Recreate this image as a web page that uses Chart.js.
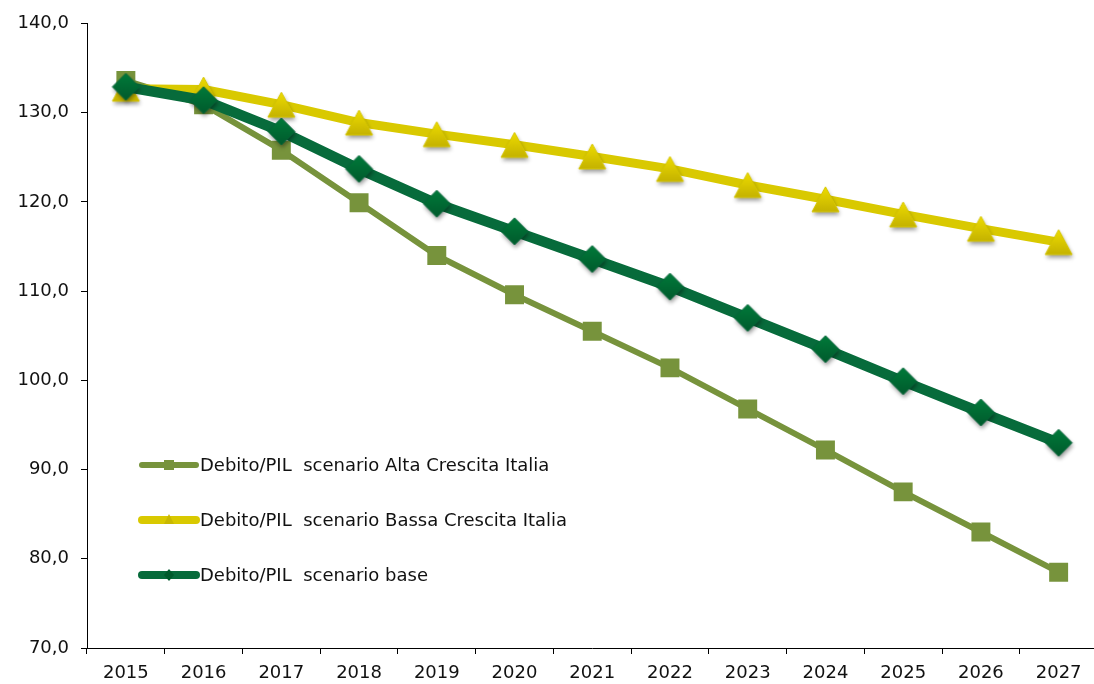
<!DOCTYPE html>
<html>
<head>
<meta charset="utf-8">
<script src="https://cdn.jsdelivr.net/npm/chart.js@4"></script>
<style>
    html, body { margin: 0; padding: 0; background: #fff; overflow: hidden; }
    #wrap { width: 1094px; height: 684px; overflow: hidden; }
</style>
</head>
<body>
<!-- canvas runs past the frame; the plot's right edge is cropped like the original -->
<div id="wrap"><canvas id="debtChart" width="1121" height="684"></canvas></div>
<script>
// Debito/PIL projections by scenario

const years = ['2015', '2016', '2017', '2018', '2019', '2020', '2021', '2022', '2023', '2024', '2025', '2026', '2027'];

const altaCrescita = [133.6, 130.9, 125.8, 119.9, 114.0, 109.6, 105.5, 101.4, 96.8, 92.2, 87.5, 83.0, 78.5];
const bassaCrescita = [132.7, 132.6, 130.9, 128.9, 127.6, 126.4, 125.1, 123.7, 121.9, 120.3, 118.6, 117.0, 115.5];
const scenarioBase = [132.9, 131.4, 127.9, 123.7, 119.8, 116.7, 113.6, 110.5, 107.0, 103.5, 99.9, 96.4, 93.0];

const seriesLabels = [
    'Debito/PIL  scenario Alta Crescita Italia',
    'Debito/PIL  scenario Bassa Crescita Italia',
    'Debito/PIL  scenario base'
];

const yTicks = { min: 70, max: 140, step: 10 };

// Colors
const colors = {
    alta: '#77933C',
    bassa: '#D9C900',
    base: '#076B3B',
};

const FONT = '"DejaVu Sans", sans-serif';

// Marker sprite with gradient fill and drop shadow
function makeMarker(shape, w, h, topColor, bottomColor, edge) {
    const pad = 8;
    const c = document.createElement('canvas');
    c.width = w + pad * 2;
    c.height = h + pad * 2;
    const g = c.getContext('2d');
    const cx = c.width / 2, cy = c.height / 2;
    g.beginPath();
    if (shape === 'triangle') {
        g.moveTo(cx, cy - h / 2);
        g.lineTo(cx + w / 2, cy + h / 2);
        g.lineTo(cx - w / 2, cy + h / 2);
    } else {
        g.moveTo(cx, cy - h / 2);
        g.lineTo(cx + w / 2, cy);
        g.lineTo(cx, cy + h / 2);
        g.lineTo(cx - w / 2, cy);
    }
    g.closePath();
    const grad = g.createLinearGradient(0, cy - h / 2, 0, cy + h / 2);
    grad.addColorStop(0, topColor);
    grad.addColorStop(1, bottomColor);
    g.shadowColor = 'rgba(0,0,0,0.4)';
    g.shadowBlur = 4;
    g.shadowOffsetX = 1;
    g.shadowOffsetY = 3;
    g.fillStyle = grad;
    g.fill();
    g.shadowColor = 'transparent';
    g.strokeStyle = edge;
    g.lineWidth = 1;
    g.stroke();
    return c;
}

const triangleMarker = makeMarker('triangle', 27, 25, '#EEDC00', '#C4B200', '#D6C600');
const diamondMarker = makeMarker('diamond', 27, 27, '#007A3A', '#005A2C', '#06663A');

// Legend drawn inside the plot area, lower left
const insideLegend = {
    id: 'insideLegend',
    afterDraw(chart) {
        const ctx = chart.ctx;
        const specs = [
            { color: colors.alta, width: 6, marker: 'square' },
            { color: colors.bassa, width: 8, marker: 'triangle' },
            { color: colors.base, width: 8, marker: 'diamond' },
        ];
        ctx.save();
        chart.data.datasets.forEach((ds, i) => {
            const y = 465 + i * 55;
            const x0 = 142, x1 = 196, xm = (x0 + x1) / 2;
            const s = specs[i];
            ctx.strokeStyle = s.color;
            ctx.lineWidth = s.width;
            ctx.lineCap = 'round';
            ctx.beginPath();
            ctx.moveTo(x0, y);
            ctx.lineTo(x1, y);
            ctx.stroke();

            ctx.fillStyle = s.marker === 'triangle' ? '#C9B800' : (s.marker === 'diamond' ? '#005A2C' : s.color);
            ctx.beginPath();
            if (s.marker === 'square') {
                ctx.rect(xm - 5, y - 5, 10, 10);
            } else if (s.marker === 'triangle') {
                ctx.moveTo(xm, y - 6);
                ctx.lineTo(xm + 5, y + 4);
                ctx.lineTo(xm - 5, y + 4);
            } else {
                ctx.moveTo(xm, y - 6);
                ctx.lineTo(xm + 5, y);
                ctx.lineTo(xm, y + 6);
                ctx.lineTo(xm - 5, y);
            }
            ctx.closePath();
            ctx.fill();

            ctx.fillStyle = '#111';
            ctx.font = '18px ' + FONT;
            ctx.textBaseline = 'middle';
            ctx.textAlign = 'left';
            ctx.fillText(ds.label, 200, y + 1);
        });
        ctx.restore();
    }
};

const ctx = document.getElementById('debtChart').getContext('2d');
const chart = new Chart(ctx, {
    type: 'line',
    data: {
        labels: years,
        datasets: [
            {
                label: seriesLabels[0],
                data: altaCrescita,
                borderColor: colors.alta,
                backgroundColor: colors.alta,
                borderWidth: 6,
                pointStyle: 'rect',
                pointRadius: 13.4,
                pointBorderWidth: 0,
                order: 2,
            },
            {
                label: seriesLabels[1],
                data: bassaCrescita,
                borderColor: colors.bassa,
                backgroundColor: colors.bassa,
                borderWidth: 9,
                pointStyle: triangleMarker,
                order: 1,
            },
            {
                label: seriesLabels[2],
                data: scenarioBase,
                borderColor: colors.base,
                backgroundColor: colors.base,
                borderWidth: 10.5,
                pointStyle: diamondMarker,
                order: 0,
            }
        ]
    },
    options: {
        responsive: false,
        animation: false,
        devicePixelRatio: 1,
        layout: {
            padding: { left: 0, top: 23, right: 0, bottom: 0 }
        },
        elements: {
            line: {
                tension: 0,
                borderJoinStyle: 'round',
                borderCapStyle: 'round',
            },
            point: {
                hoverRadius: 13,
            }
        },
        plugins: {
            legend: { display: false },
            tooltip: { enabled: false },
        },
        scales: {
            x: {
                type: 'category',
                offset: true,
                grid: {
                    offset: true,
                    drawOnChartArea: false,
                    drawTicks: true,
                    tickLength: 6,
                    color: '#000',
                },
                border: { color: '#000', width: 1 },
                ticks: {
                    color: '#111',
                    font: { family: FONT, size: 18 },
                    padding: 9,
                    maxRotation: 0,
                },
                afterFit(scale) {
                    scale.height = 36;
                }
            },
            y: {
                min: yTicks.min,
                max: yTicks.max,
                grid: {
                    drawOnChartArea: false,
                    drawTicks: true,
                    tickLength: 6,
                    color: '#000',
                },
                border: { color: '#000', width: 1 },
                ticks: {
                    stepSize: yTicks.step,
                    color: '#111',
                    font: { family: FONT, size: 18 },
                    padding: 12,
                    callback: v => v.toFixed(1).replace('.', ',')
                },
                afterFit(scale) {
                    scale.width = 87;
                }
            }
        }
    },
    plugins: [insideLegend]
});
</script>
</body>
</html>
